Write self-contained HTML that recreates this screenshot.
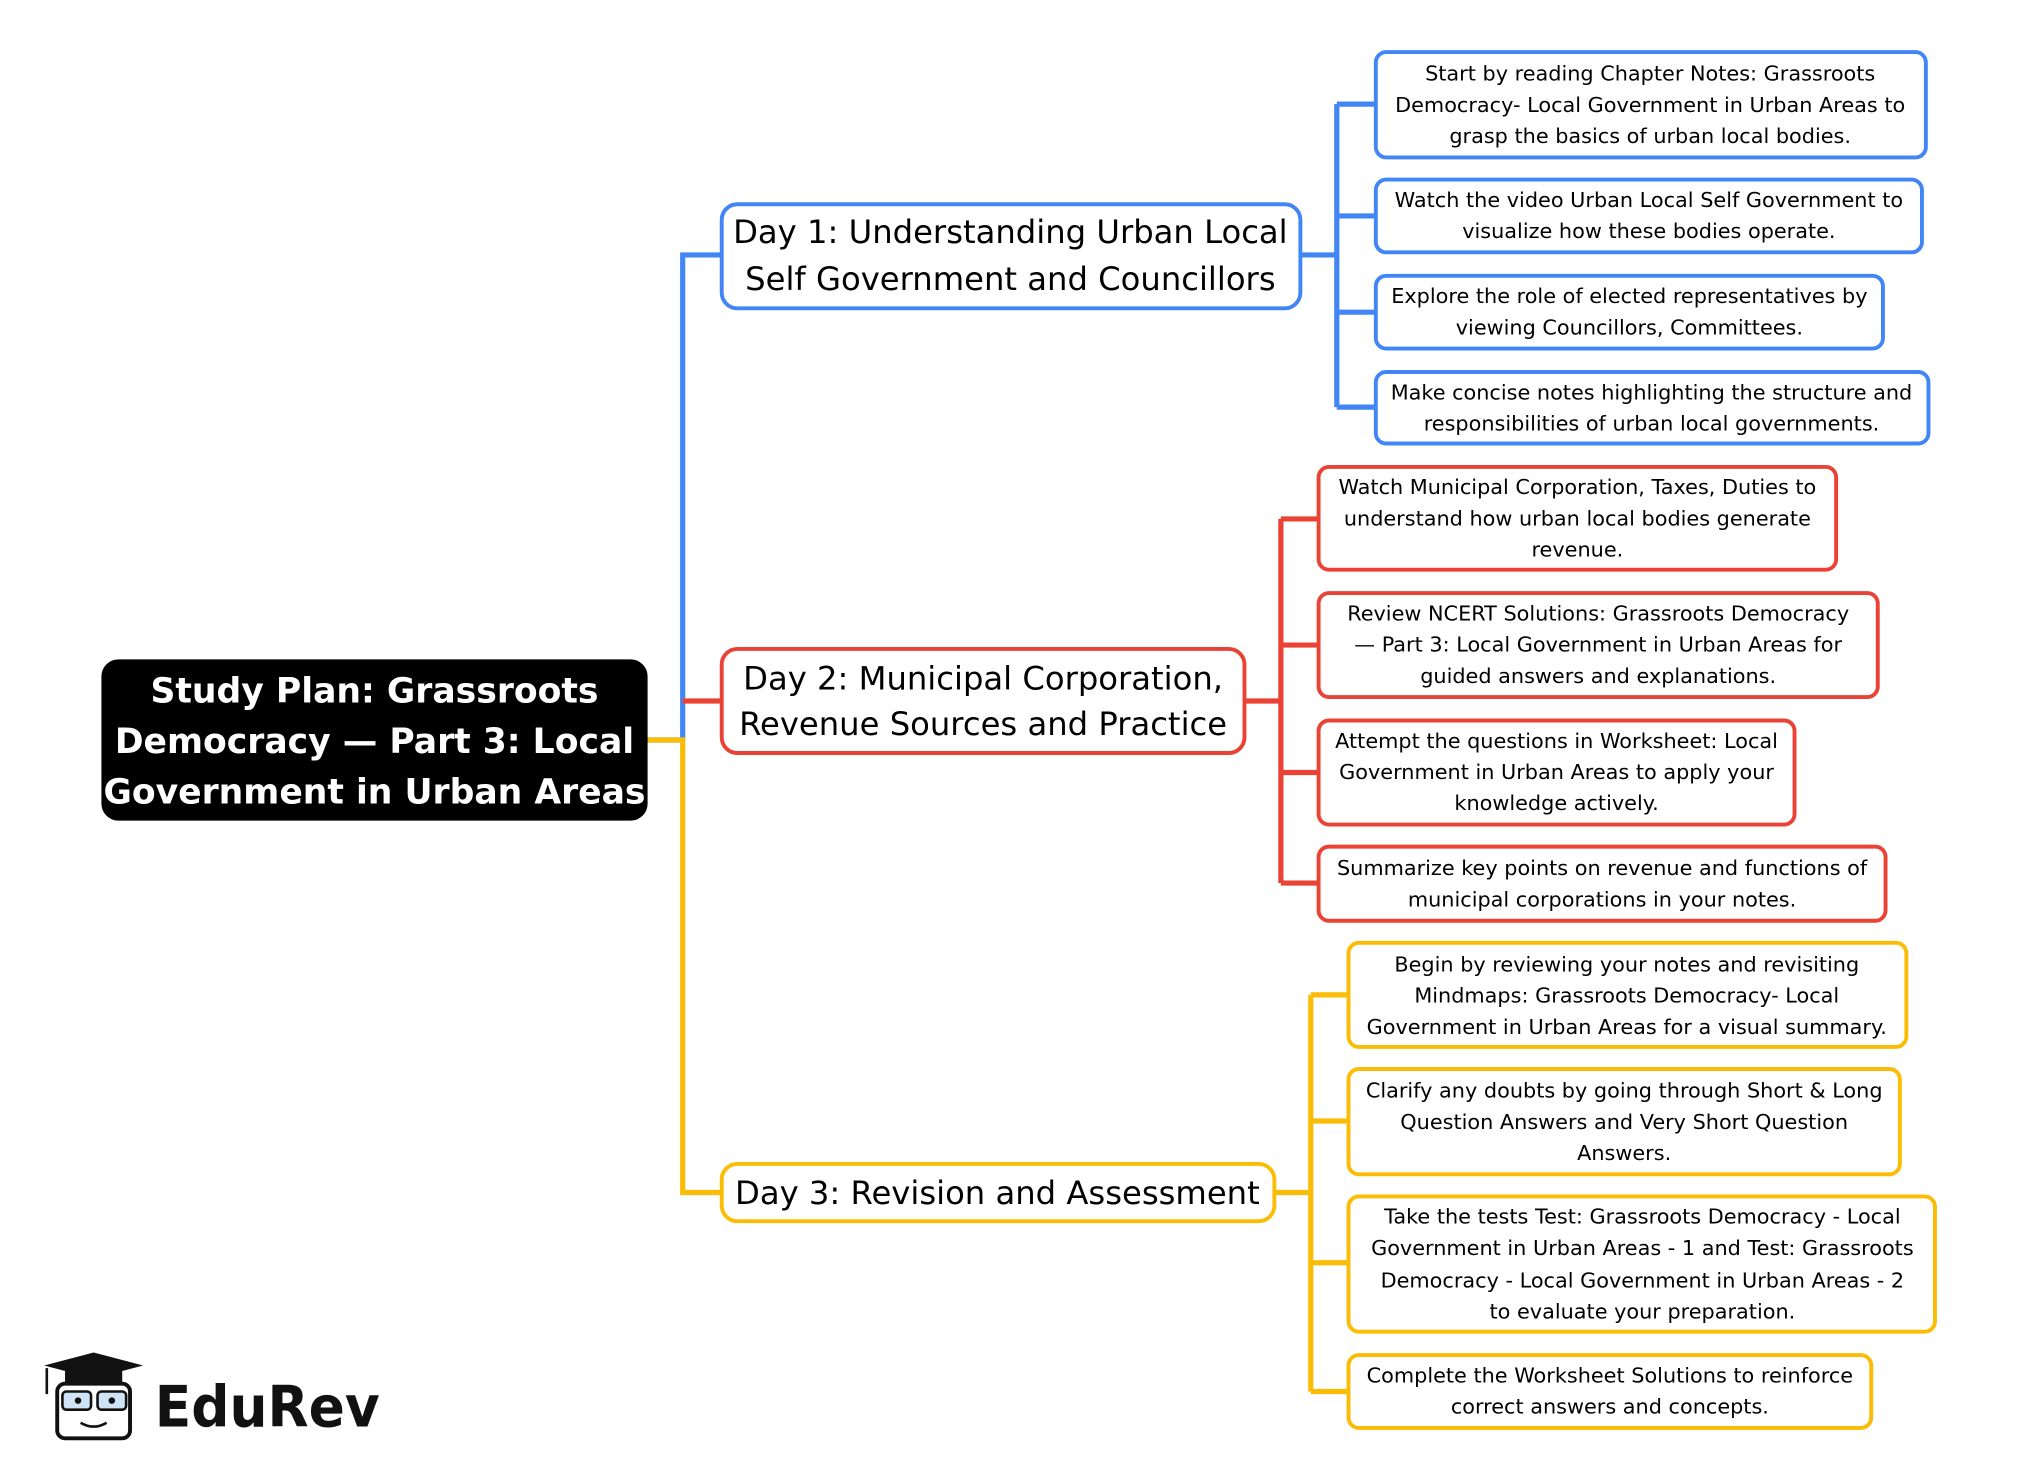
<!DOCTYPE html>
<html><head><meta charset="utf-8"><style>html,body{margin:0;padding:0;background:#fff}svg{display:block}</style></head>
<body>
<svg width="2039" height="1480" viewBox="0 0 1568 1138" xmlns="http://www.w3.org/2000/svg" font-family="DejaVu Sans, Liberation Sans, sans-serif">
<g fill="none" stroke-width="4">
<path d="M498,569 H525 V196 H555" stroke="#4285f4"/>
<path d="M525,539 H555" stroke="#ea4335"/>
<path d="M498,569 H525 V917 H555" stroke="#fbbc05"/>
<path d="M1000,196 H1028 M1028,80 V313 M1028,80 H1058 M1028,166 H1058 M1028,240 H1058 M1028,313 H1058" stroke="#4285f4"/>
<path d="M957,539 H985 M985,399 V679 M985,399 H1014 M985,496 H1014 M985,594 H1014 M985,679 H1014" stroke="#ea4335"/>
<path d="M980,917 H1008 M1008,765 V1070 M1008,765 H1037 M1008,862 H1037 M1008,971 H1037 M1008,1070 H1037" stroke="#fbbc05"/>
</g>
<rect x="78" y="507" width="420" height="124" rx="13" fill="#000"/>
<g fill="#fff" font-weight="bold" font-size="26.6" text-anchor="middle">
<text x="288" y="540">Study Plan: Grassroots</text>
<text x="288" y="579">Democracy — Part 3: Local</text>
<text x="288" y="618">Government in Urban Areas</text>
</g>
<g fill="#fff" stroke-width="3">
<rect x="555" y="157" width="445" height="80" rx="12" stroke="#4285f4"/>
<rect x="555" y="499" width="402" height="80" rx="12" stroke="#ea4335"/>
<rect x="555" y="895" width="425" height="44" rx="12" stroke="#fbbc05"/>
<rect x="1058" y="40" width="423" height="81" rx="8" stroke="#4285f4"/>
<rect x="1058" y="138" width="420" height="56" rx="8" stroke="#4285f4"/>
<rect x="1058" y="212" width="390" height="56" rx="8" stroke="#4285f4"/>
<rect x="1058" y="286" width="425" height="55" rx="8" stroke="#4285f4"/>
<rect x="1014" y="359" width="398" height="79" rx="8" stroke="#ea4335"/>
<rect x="1014" y="456" width="430" height="80" rx="8" stroke="#ea4335"/>
<rect x="1014" y="554" width="366" height="80" rx="8" stroke="#ea4335"/>
<rect x="1014" y="651" width="436" height="57" rx="8" stroke="#ea4335"/>
<rect x="1037" y="725" width="429" height="80" rx="8" stroke="#fbbc05"/>
<rect x="1037" y="822" width="424" height="81" rx="8" stroke="#fbbc05"/>
<rect x="1037" y="920" width="451" height="104" rx="8" stroke="#fbbc05"/>
<rect x="1037" y="1042" width="402" height="56" rx="8" stroke="#fbbc05"/>
</g>
<g fill="#000" font-size="24.8" text-anchor="middle">
<text x="777" y="187">Day 1: Understanding Urban Local</text>
<text x="777" y="223">Self Government and Councillors</text>
<text x="756" y="530">Day 2: Municipal Corporation,</text>
<text x="756" y="565">Revenue Sources and Practice</text>
<text x="767" y="926">Day 3: Revision and Assessment</text>
</g>
<g fill="#000" font-size="16" text-anchor="middle">
<text x="1269" y="62">Start by reading Chapter Notes: Grassroots</text>
<text x="1269" y="86">Democracy- Local Government in Urban Areas to</text>
<text x="1269" y="110">grasp the basics of urban local bodies.</text>
<text x="1268" y="159">Watch the video Urban Local Self Government to</text>
<text x="1268" y="183">visualize how these bodies operate.</text>
<text x="1253" y="233">Explore the role of elected representatives by</text>
<text x="1253" y="257">viewing Councillors, Committees.</text>
<text x="1270" y="307">Make concise notes highlighting the structure and</text>
<text x="1270" y="331">responsibilities of urban local governments.</text>
<text x="1213" y="380">Watch Municipal Corporation, Taxes, Duties to</text>
<text x="1213" y="404">understand how urban local bodies generate</text>
<text x="1213" y="428">revenue.</text>
<text x="1229" y="477">Review NCERT Solutions: Grassroots Democracy</text>
<text x="1229" y="501">— Part 3: Local Government in Urban Areas for</text>
<text x="1229" y="525">guided answers and explanations.</text>
<text x="1197" y="575">Attempt the questions in Worksheet: Local</text>
<text x="1197" y="599">Government in Urban Areas to apply your</text>
<text x="1197" y="623">knowledge actively.</text>
<text x="1232" y="673">Summarize key points on revenue and functions of</text>
<text x="1232" y="697">municipal corporations in your notes.</text>
<text x="1251" y="747">Begin by reviewing your notes and revisiting</text>
<text x="1251" y="771">Mindmaps: Grassroots Democracy- Local</text>
<text x="1251" y="795">Government in Urban Areas for a visual summary.</text>
<text x="1249" y="844">Clarify any doubts by going through Short &amp; Long</text>
<text x="1249" y="868">Question Answers and Very Short Question</text>
<text x="1249" y="892">Answers.</text>
<text x="1263" y="941">Take the tests Test: Grassroots Democracy - Local</text>
<text x="1263" y="965">Government in Urban Areas - 1 and Test: Grassroots</text>
<text x="1263" y="990">Democracy - Local Government in Urban Areas - 2</text>
<text x="1263" y="1014">to evaluate your preparation.</text>
<text x="1238" y="1063">Complete the Worksheet Solutions to reinforce</text>
<text x="1238" y="1087">correct answers and concepts.</text>
</g>
<g>
<polygon points="34,1050 72,1040 110,1050 72,1060" fill="#111"/>
<rect x="50" y="1052" width="44" height="12" fill="#111"/>
<line x1="36" y1="1052" x2="36" y2="1072" stroke="#111" stroke-width="2"/>
<rect x="44" y="1064" width="56" height="42" rx="6" fill="#fff" stroke="#111" stroke-width="3"/>
<rect x="48" y="1070" width="22" height="14" rx="3" fill="#cfe3f7" stroke="#111" stroke-width="2"/>
<rect x="75" y="1070" width="22" height="14" rx="3" fill="#cfe3f7" stroke="#111" stroke-width="2"/>
<circle cx="60" cy="1077" r="2.5" fill="#111"/><circle cx="86" cy="1077" r="2.5" fill="#111"/>
<path d="M62,1094 Q72,1100 82,1094" fill="none" stroke="#111" stroke-width="2"/>
<text x="119" y="1097" font-size="44" font-weight="bold" fill="#111" textLength="173" lengthAdjust="spacingAndGlyphs">EduRev</text>
</g>
</svg>
</body></html>
